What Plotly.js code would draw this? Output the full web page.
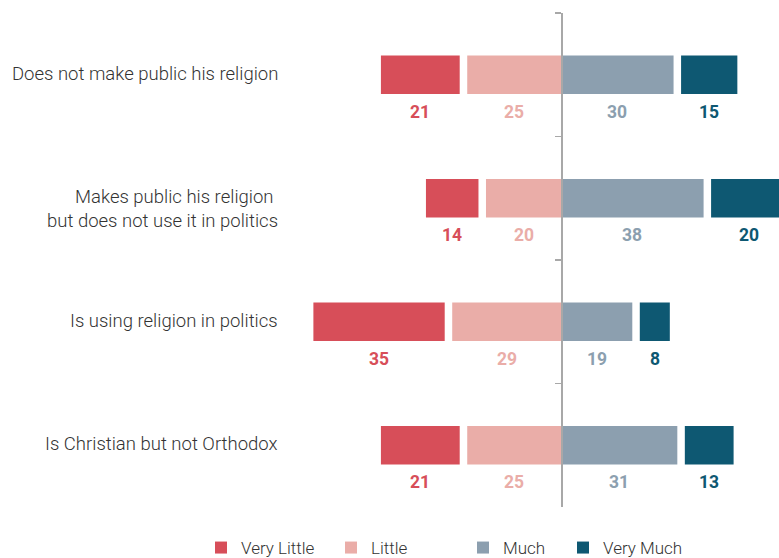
<!DOCTYPE html>
<html>
<head>
<meta charset="utf-8">
<script src="https://cdn.plot.ly/plotly-3.0.1.min.js"></script>
<style>html,body{margin:0;padding:0;background:#fff;}#chart{width:779px;height:558px;}</style>
</head>
<body>
<div id="chart"></div>
<script>
// ---- data ----
const categories = [
  "Does not make public his religion",
  "Makes public his religion <br>but does not use it in politics",
  "Is using religion in politics",
  "Is Christian but not Orthodox"
];
const veryLittle = [21, 14, 35, 21];
const little     = [25, 20, 29, 25];
const much       = [30, 38, 19, 31];
const veryMuch   = [15, 20, 8, 13];
const seriesNames = ["Very Little", "Little", "Much", "Very Much"];

// ---- style ----
const colors = ["#D74E59", "#EAADA8", "#8C9FAF", "#0E5872"];
const gap = 2;            // visual gap between outer and inner segments (axis units)
const xRange = [-73.3, 58.1];
const barWidth = 0.31;
const FONT = "Roboto, 'Open Sans', sans-serif";

const neg = a => a.map(v => -v);
const traces = [
  {name: seriesNames[0], y: categories, x: neg(veryLittle), base: little.map(v => -(v + gap)), legend: "legend"},
  {name: seriesNames[1], y: categories, x: neg(little), base: little.map(() => 0), legend: "legend2"},
  {name: seriesNames[2], y: categories, x: much, base: much.map(() => 0), legend: "legend3"},
  {name: seriesNames[3], y: categories, x: veryMuch, base: much.map(v => v + gap), legend: "legend4"}
].map((t, i) => Object.assign(t, {
  type: "bar", orientation: "h", width: barWidth,
  marker: {color: colors[i], line: {width: 0}},
  hoverinfo: "skip"
}));

const annotations = [];
// category labels
categories.forEach(c => {
  annotations.push({
    xref: "paper", yref: "y", x: -0.012, y: c, xanchor: "right", yanchor: "top",
    yshift: 14, text: c, showarrow: false, align: "right",
    font: {family: FONT, size: 18.5, color: "#333333", weight: 300}
  });
});
// value labels
const vals = [veryLittle, little, much, veryMuch];
traces.forEach((t, i) => {
  categories.forEach((c, j) => {
    const mid = t.base[j] + t.x[j] / 2;
    annotations.push({
      xref: "x", yref: "y", x: mid, y: c, xanchor: "center", yanchor: "middle",
      yshift: -37, text: String(vals[i][j]), showarrow: false,
      font: {family: FONT, size: 17.5, color: colors[i], weight: 700}
    });
  });
});

const legendBase = {orientation: "h", yref: "container", yanchor: "middle", y: 1 - 548 / 558,
  xref: "container", xanchor: "left",
  font: {family: FONT, size: 17, color: "#333333", weight: 300}, bgcolor: "rgba(0,0,0,0)"};
const pxToC = p => p / 779;

const layout = {
  width: 779, height: 558,
  margin: {l: 286, r: 0, t: 13, b: 51},
  paper_bgcolor: "#ffffff", plot_bgcolor: "#ffffff",
  barmode: "overlay",
  showlegend: true,
  legend:  Object.assign({}, legendBase, {x: pxToC(201)}),
  legend2: Object.assign({}, legendBase, {x: pxToC(331)}),
  legend3: Object.assign({}, legendBase, {x: pxToC(463)}),
  legend4: Object.assign({}, legendBase, {x: pxToC(563)}),
  xaxis: {range: xRange, visible: false, fixedrange: true},
  yaxis: {
    type: "category", categoryarray: categories, categoryorder: "array",
    range: [3.5, -0.5],
    anchor: "free", position: -xRange[0] / (xRange[1] - xRange[0]),
    showline: true, linecolor: "#a8a8a8", linewidth: 1.5,
    ticks: "outside", ticklen: 6, tickwidth: 1.5, tickcolor: "#a8a8a8",
    tickson: "boundaries", showticklabels: false, showgrid: false, zeroline: false
  },
  annotations: annotations
};

Plotly.newPlot("chart", traces, layout, {displayModeBar: false, staticPlot: true});
</script>
</body>
</html>
